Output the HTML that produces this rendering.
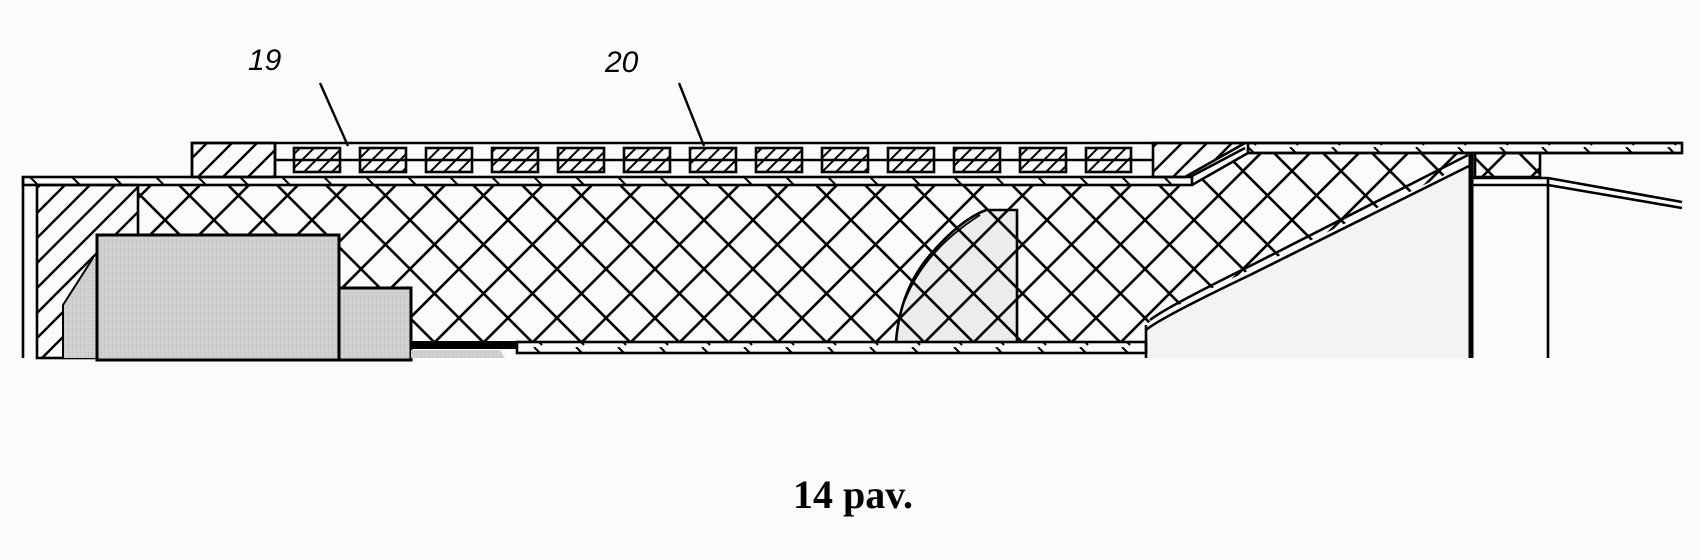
<!DOCTYPE html>
<html><head><meta charset="utf-8"><style>
html,body{margin:0;padding:0;background:#fbfbfb;}
svg{display:block}
</style></head><body>
<svg width="1700" height="560" viewBox="0 0 1700 560" xmlns="http://www.w3.org/2000/svg">
<defs>
<pattern id="x" patternUnits="userSpaceOnUse" x="18" y="24" width="49" height="49">
<path d="M0,0L49,49M49,0L0,49M-5,44L5,54M44,-5L54,5" stroke="#000" stroke-width="2.6" fill="none"/>
</pattern>
<pattern id="h" patternUnits="userSpaceOnUse" width="25" height="25">
<path d="M0,25L25,0M-5,5L5,-5M20,30L30,20" stroke="#000" stroke-width="2.4"/>
</pattern>
<pattern id="hs" patternUnits="userSpaceOnUse" width="14" height="14">
<path d="M0,14L14,0M-3,3L3,-3M11,17L17,11" stroke="#000" stroke-width="2"/>
</pattern>
<pattern id="t" patternUnits="userSpaceOnUse" width="42" height="10" y="177">
<path d="M30,0L38,8" stroke="#000" stroke-width="2"/>
</pattern>
<pattern id="gr" patternUnits="userSpaceOnUse" width="4" height="4">
<rect width="4" height="4" fill="#cfcfcf"/><rect width="1" height="1" fill="#bdbdbd"/><rect x="2" y="2" width="1" height="1" fill="#dadada"/>
</pattern>
</defs>
<g stroke="#000" stroke-width="2.6" fill="none">
<path d="M1146,358 L1146,330 Q1160,318 1250,275 L1471,165 L1471,358 Z" fill="#f3f3f3" stroke="none"/>
<path d="M896,342 Q900,290 930,255 Q960,220 986,210 L1017,210 L1017,342 Z" fill="#ececec" stroke="none"/>
<path d="M138,185 L1192,185 L1248,153 L1471,153 L1471,162 L1250,270 Q1160,312 1146,325 L1146,342 L138,342 Z" fill="url(#x)" stroke="none"/>
<rect x="37" y="185" width="101" height="173" fill="url(#h)"/>
<line x1="23" y1="177" x2="23" y2="358"/>
<path d="M63,358 L63,305 L93,258 L97,258 L97,358 Z" fill="url(#gr)" stroke="none"/>
<path d="M63,358 L63,305 L93,258" stroke-width="2"/>
<rect x="97" y="235" width="242" height="125" fill="url(#gr)" stroke="#000" stroke-width="3"/>
<rect x="339" y="288" width="72" height="72" fill="url(#gr)" stroke="#000" stroke-width="3"/>
<path d="M411,350 L500,350 L505,358 L411,358 Z" fill="url(#gr)" stroke="none"/>
<rect x="411" y="341" width="106" height="8" fill="#000" stroke="none"/>
<path d="M896,342 Q900,290 930,255 Q960,220 986,210 L1017,210 L1017,342"/>
<path d="M905,300 Q925,250 980,215" stroke-width="1.8"/>
<rect x="517" y="342" width="629" height="11" fill="url(#t)"/>
<line x1="1146" y1="325" x2="1146" y2="358"/>
<path d="M1146,330 Q1160,318 1250,275 L1471,165"/>
<path d="M1150,320 Q1165,308 1250,266 L1468,155"/>
<rect x="23" y="177" width="1169" height="8" fill="url(#t)"/>
<path d="M192,177 L192,143 L1682,143"/>
<rect x="192" y="143" width="83" height="34" fill="url(#h)"/>
<line x1="275" y1="143" x2="275" y2="177"/>
<line x1="275" y1="160" x2="1153" y2="160"/>
<g fill="#fbfbfb">
<rect x="294" y="148" width="46" height="24" fill="url(#hs)"/><rect x="360" y="148" width="46" height="24" fill="url(#hs)"/>
<rect x="426" y="148" width="46" height="24" fill="url(#hs)"/><rect x="492" y="148" width="46" height="24" fill="url(#hs)"/>
<rect x="558" y="148" width="46" height="24" fill="url(#hs)"/><rect x="624" y="148" width="46" height="24" fill="url(#hs)"/>
<rect x="690" y="148" width="46" height="24" fill="url(#hs)"/><rect x="756" y="148" width="46" height="24" fill="url(#hs)"/>
<rect x="822" y="148" width="46" height="24" fill="url(#hs)"/><rect x="888" y="148" width="46" height="24" fill="url(#hs)"/>
<rect x="954" y="148" width="46" height="24" fill="url(#hs)"/><rect x="1020" y="148" width="46" height="24" fill="url(#hs)"/>
<rect x="1086" y="148" width="45" height="24" fill="url(#hs)"/>
</g>
<path d="M1153,143 L1245,143 L1185,177 L1153,177 Z" fill="url(#h)"/>
<path d="M1190,177 L1245,148 M1192,185 L1248,153"/>
<rect x="1248" y="143" width="434" height="10" fill="url(#t)"/>
<line x1="1248" y1="153" x2="1682" y2="153"/>
<line x1="1471" y1="153" x2="1471" y2="358" stroke-width="5"/>
<rect x="1475" y="153" width="65" height="24" fill="url(#x)"/>
<path d="M1473,178 L1548,178 L1682,202 M1473,185 L1548,185 L1682,208"/>
<line x1="1548" y1="178" x2="1548" y2="358"/>
<line x1="320" y1="83" x2="348" y2="146" stroke-width="2.4"/>
<line x1="679" y1="83" x2="704" y2="146" stroke-width="2.4"/>
</g>
<text x="248" y="70" font-family="Liberation Sans, sans-serif" font-style="italic" font-size="30">19</text>
<text x="605" y="72" font-family="Liberation Sans, sans-serif" font-style="italic" font-size="30">20</text>
<text x="793" y="508" font-family="Liberation Serif, serif" font-weight="bold" font-size="40">14 pav.</text>
</svg>
</body></html>
